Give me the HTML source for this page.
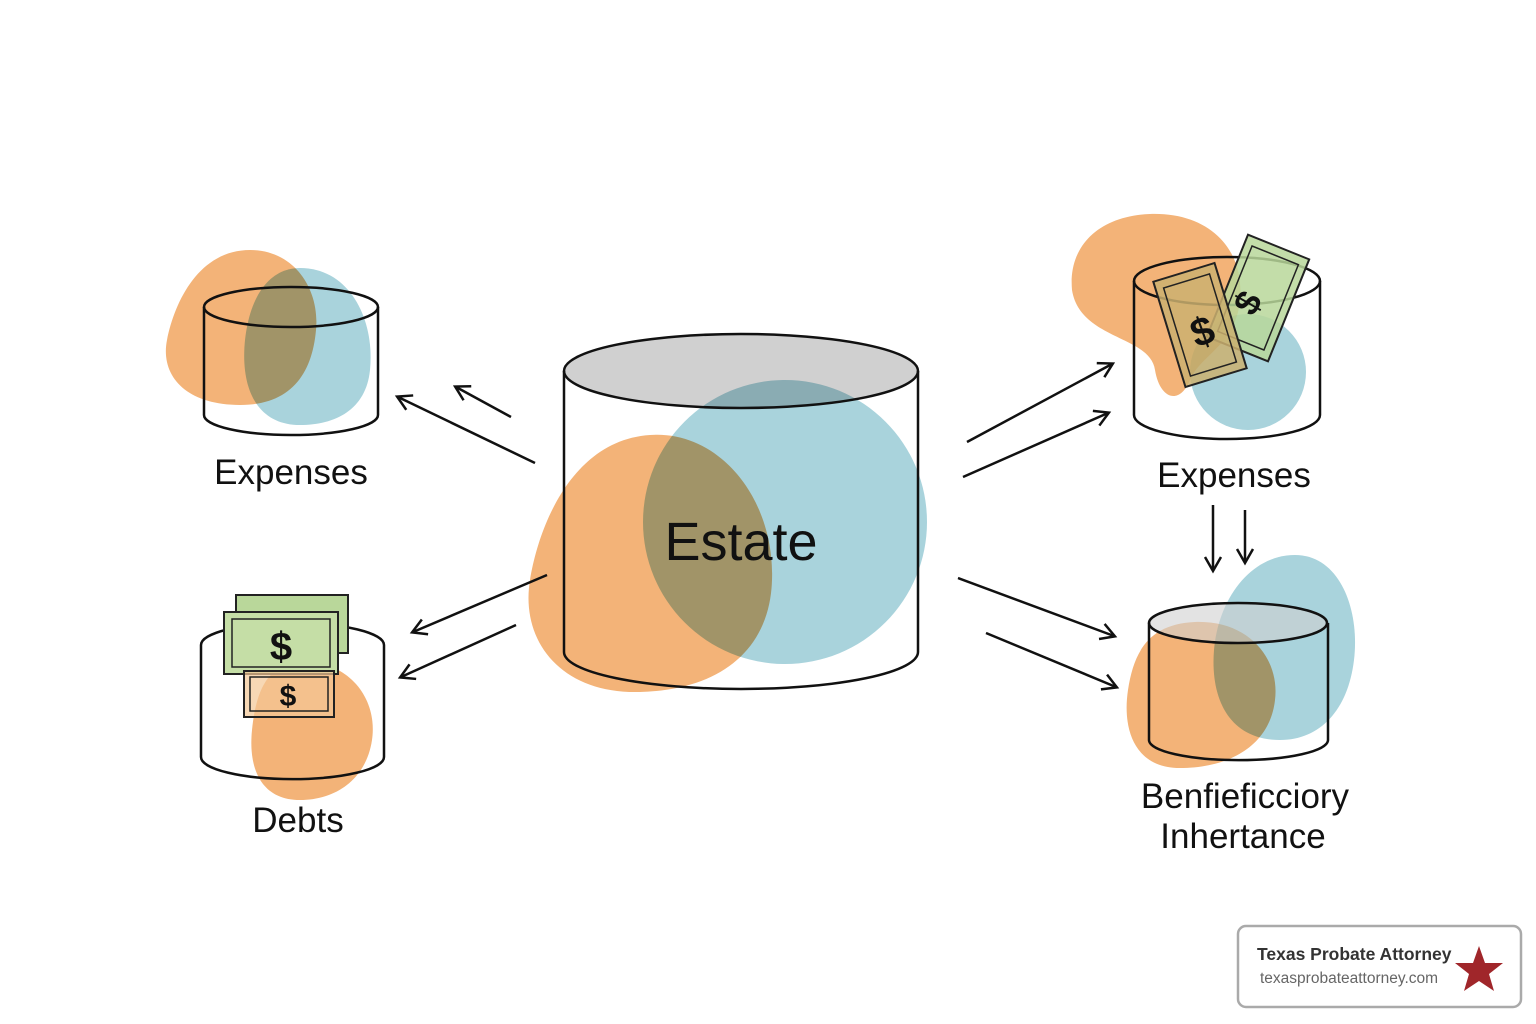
<!DOCTYPE html>
<html><head><meta charset="utf-8"><style>
html,body{margin:0;padding:0;background:#fff}
svg{display:block}
text{font-family:"Liberation Sans",sans-serif}
</style></head><body>
<svg width="1536" height="1024" viewBox="0 0 1536 1024" xmlns="http://www.w3.org/2000/svg">
<defs>
<marker id="ah" markerWidth="20" markerHeight="20" refX="15" refY="10" orient="auto" markerUnits="userSpaceOnUse">
<path d="M2,2 L16,10 L2,18" fill="none" stroke="#111" stroke-width="2.5"/>
</marker>
</defs>
<rect width="1536" height="1024" fill="#fff"/>
<g style="isolation:isolate">
<ellipse cx="741" cy="371" rx="177" ry="37" fill="#d0d0d0"/>
<path d="M650,435 C720,430 775,500 772,580 C770,650 720,690 640,692 C560,694 520,640 530,580 C540,520 575,440 650,435Z" fill="#f3b378"/>
<circle cx="785" cy="522" r="142" fill="#a9d3dc" style="mix-blend-mode:multiply"/>
<path d="M250,250 C295,250 320,290 316,330 C312,375 290,405 240,405 C185,405 160,375 167,340 C175,300 200,250 250,250Z" fill="#f3b378"/>
<path d="M300,268 C350,268 375,320 370,370 C366,410 335,425 300,425 C258,425 240,390 245,340 C250,295 270,268 300,268Z" fill="#a9d3dc" style="mix-blend-mode:multiply"/>
<path d="M300,662 C350,660 378,700 372,740 C366,780 335,800 300,800 C262,800 248,770 252,730 C256,690 268,664 300,662Z" fill="#f3b378"/>
<path d="M1150,214 C1210,212 1245,250 1240,300 C1236,345 1200,355 1190,380 C1180,405 1160,400 1155,370 C1150,335 1080,340 1072,290 C1068,245 1100,216 1150,214Z" fill="#f3b378"/>
<circle cx="1248" cy="372" r="58" fill="#a9d3dc" style="mix-blend-mode:multiply"/>
<path d="M1195,622 C1250,620 1280,660 1275,700 C1270,745 1230,768 1180,768 C1135,768 1122,730 1128,690 C1134,650 1150,624 1195,622Z" fill="#f3b378"/>
<path d="M1295,555 C1340,555 1360,610 1354,660 C1348,710 1320,740 1280,740 C1230,740 1210,700 1214,650 C1218,600 1250,555 1295,555Z" fill="#a9d3dc" style="mix-blend-mode:multiply"/>
</g>
<g fill="none" stroke="#111" stroke-width="2.5">
<ellipse cx="741" cy="371" rx="177" ry="37"/>
<path d="M564,371 V652 A177,37 0 0 0 918,652 V371"/>
<ellipse cx="291" cy="307" rx="87" ry="20"/>
<path d="M204,307 V415 A87,20 0 0 0 378,415 V307"/>
<path d="M201,645 A91,22 0 0 1 384,645"/>
<path d="M201,645 V757 A91,22 0 0 0 384,757 V645"/>
<ellipse cx="1227" cy="281" rx="93" ry="24"/>
<path d="M1134,281 V415 A93,24 0 0 0 1320,415 V281"/>
<ellipse cx="1238" cy="623" rx="89" ry="20" fill="#d0d0d0" fill-opacity="0.6"/>
<path d="M1149,623 V740 A89,20 0 0 0 1328,740 V623"/>
<line x1="535" y1="463" x2="398" y2="397" marker-end="url(#ah)"/>
<line x1="511" y1="417" x2="456" y2="387" marker-end="url(#ah)"/>
<line x1="547" y1="575" x2="413" y2="632" marker-end="url(#ah)"/>
<line x1="516" y1="625" x2="401" y2="677" marker-end="url(#ah)"/>
<line x1="967" y1="442" x2="1112" y2="364" marker-end="url(#ah)"/>
<line x1="963" y1="477" x2="1108" y2="413" marker-end="url(#ah)"/>
<line x1="958" y1="578" x2="1114" y2="636" marker-end="url(#ah)"/>
<line x1="986" y1="633" x2="1116" y2="687" marker-end="url(#ah)"/>
<line x1="1213" y1="505" x2="1213" y2="570" marker-end="url(#ah)"/>
<line x1="1245" y1="510" x2="1245" y2="562" marker-end="url(#ah)"/>
</g>
<g stroke="#222" stroke-width="2">
<rect x="236" y="595" width="112" height="58" fill="#b9d79a"/>
<rect x="224" y="612" width="114" height="62" fill="#c5dea6"/>
<rect x="232" y="619" width="98" height="48" fill="none" stroke-width="1.5"/>
<rect x="244" y="671" width="90" height="46" fill="#f3c896" fill-opacity="0.7"/>
<rect x="250" y="677" width="78" height="34" fill="none" stroke-width="1.5"/>
</g>
<text x="281" y="660" font-size="40" font-weight="bold" text-anchor="middle" fill="#111">$</text>
<text x="288" y="706" font-size="30" font-weight="bold" text-anchor="middle" fill="#111">$</text>
<g stroke="#222" stroke-width="2">
<g transform="rotate(22 1258 298)"><rect x="1225" y="243" width="66" height="110" fill="#b9d79a" fill-opacity="0.85"/><rect x="1233" y="252" width="50" height="92" fill="none" stroke-width="1.5"/></g>
<g transform="rotate(-17 1200 325)"><rect x="1168" y="270" width="64" height="110" fill="#cbb070" fill-opacity="0.85"/><rect x="1176" y="279" width="48" height="92" fill="none" stroke-width="1.5"/></g>
</g>
<text x="1203" y="345" font-size="40" font-weight="bold" text-anchor="middle" fill="#111" transform="rotate(-20 1203 333)">$</text>
<text x="1248" y="315" font-size="36" font-weight="bold" text-anchor="middle" fill="#111" transform="rotate(-60 1248 303)">$</text>
<text x="741" y="560" font-size="54" text-anchor="middle" fill="#111">Estate</text>
<text x="291" y="484" font-size="35" text-anchor="middle" fill="#111">Expenses</text>
<text x="298" y="832" font-size="35" text-anchor="middle" fill="#111">Debts</text>
<text x="1234" y="487" font-size="35" text-anchor="middle" fill="#111">Expenses</text>
<text x="1245" y="808" font-size="35" text-anchor="middle" fill="#111">Benfieficciory</text>
<text x="1243" y="848" font-size="35" text-anchor="middle" fill="#111">Inhertance</text>
<rect x="1238" y="926" width="283" height="81" rx="8" fill="#fff" stroke="#aaa" stroke-width="2.5"/>
<text x="1257" y="960" font-size="17.5" font-weight="bold" fill="#333">Texas Probate Attorney</text>
<text x="1260" y="983" font-size="15.5" fill="#666">texasprobateattorney.com</text>
<polygon points="1479,946 1485,963 1503,963 1489,974 1494,991 1479,981 1464,991 1469,974 1455,963 1473,963" fill="#a0262a"/>
</svg>
</body></html>
